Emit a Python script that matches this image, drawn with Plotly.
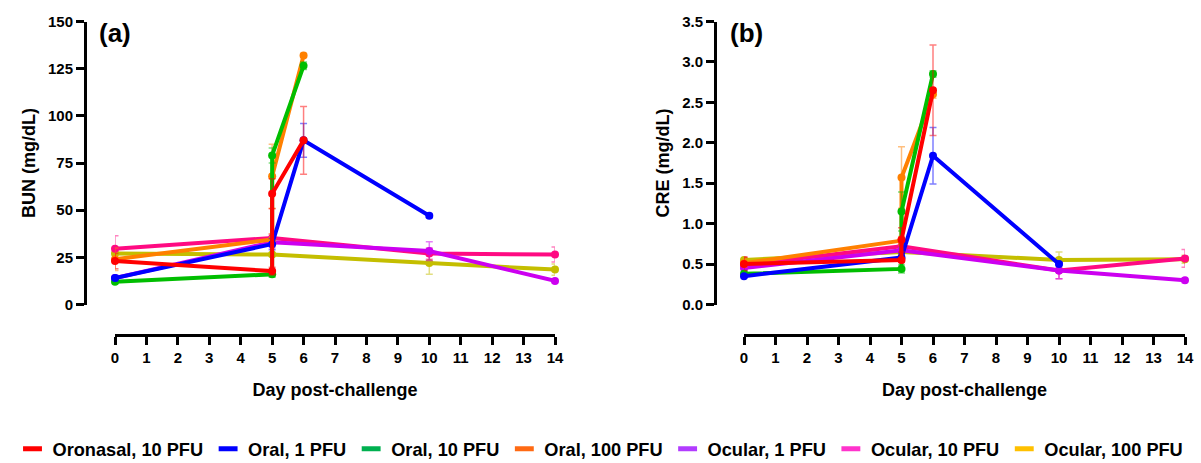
import plotly.graph_objects as go

# ---- data -------------------------------------------------------------
group_names = ["Oronasal, 10 PFU", "Oral, 1 PFU", "Oral, 10 PFU", "Oral, 100 PFU",
               "Ocular, 1 PFU", "Ocular, 10 PFU", "Ocular, 100 PFU"]

days_oronasal = [0, 5, 5, 6]
days_oral_1 = [0, 5, 6, 10]
days_oral_10 = [0, 5, 5, 6]
days_oral_100 = [0, 5, 5, 6]
days_ocular = [0, 5, 10, 14]

# BUN (mg/dL), mean and SD
bun_oronasal_10 = [23.0, 17.7, 58.7, 87.0]
bun_oronasal_10_sd = [4.0, 2.0, 8.0, 18.0]
bun_oral_1 = [14.0, 32.0, 87.0, 47.0]
bun_oral_1_sd = [1.5, 3.0, 9.0, 1.0]
bun_oral_10 = [12.0, 16.0, 79.0, 126.5]
bun_oral_10_sd = [1.0, 1.5, 4.0, 2.0]
bun_oral_100 = [24.0, 34.5, 68.0, 132.0]
bun_oral_100_sd = [6.0, 3.0, 17.0, 1.0]
bun_ocular_1 = [14.0, 33.0, 28.3, 12.5]
bun_ocular_1_sd = [1.0, 3.0, 5.0, 1.0]
bun_ocular_10 = [29.5, 35.3, 27.0, 26.5]
bun_ocular_10_sd = [7.0, 2.0, 3.0, 4.0]
bun_ocular_100 = [27.0, 26.5, 22.0, 18.5]
bun_ocular_100_sd = [2.0, 1.0, 6.0, 3.0]

# CRE (mg/dL), mean and SD
cre_oronasal_10 = [0.50, 0.55, 0.80, 2.65]
cre_oronasal_10_sd = [0.08, 0.03, 0.15, 0.56]
cre_oral_1 = [0.35, 0.58, 1.84, 0.50]
cre_oral_1_sd = [0.02, 0.05, 0.35, 0.02]
cre_oral_10 = [0.38, 0.44, 1.15, 2.85]
cre_oral_10_sd = [0.03, 0.05, 0.24, 0.04]
cre_oral_100 = [0.51, 0.79, 1.57, 2.60]
cre_oral_100_sd = [0.05, 0.05, 0.38, 0.05]
cre_ocular_1 = [0.45, 0.67, 0.42, 0.30]
cre_ocular_1_sd = [0.03, 0.03, 0.10, 0.03]
cre_ocular_10 = [0.49, 0.72, 0.42, 0.57]
cre_ocular_10_sd = [0.10, 0.03, 0.10, 0.11]
cre_ocular_100 = [0.55, 0.65, 0.55, 0.56]
cre_ocular_100_sd = [0.03, 0.03, 0.10, 0.05]

day_ticks = list(range(0, 15))
bun_ticks = [0, 25, 50, 75, 100, 125, 150]
cre_ticks = [0.0, 0.5, 1.0, 1.5, 2.0, 2.5, 3.0, 3.5]
cre_tick_text = ["0.0", "0.5", "1.0", "1.5", "2.0", "2.5", "3.0", "3.5"]

# ---- styling ----------------------------------------------------------
line_colors = ["#FF0000", "#0000FF", "#00BE00", "#FF8000",
               "#CC00F0", "#FF0A82", "#C4BE00"]
err_colors = ["rgba(255,0,0,0.5)", "rgba(0,0,255,0.5)", "rgba(0,190,0,0.5)",
              "rgba(255,128,0,0.5)", "rgba(204,0,240,0.5)", "rgba(255,10,130,0.5)",
              "rgba(196,190,0,0.5)"]
legend_colors = ["#FF0000", "#0000FF", "#00B050", "#FF6A13",
                 "#B23CFF", "#FF33CC", "#FFC000"]

FONT = "Liberation Sans, Arial, sans-serif"
W, H = 1201, 463


def px_x(p):
    return p / W


def px_y(p):
    return 1 - p / H


bun_series = [
    (days_oronasal, bun_oronasal_10, bun_oronasal_10_sd),
    (days_oral_1, bun_oral_1, bun_oral_1_sd),
    (days_oral_10, bun_oral_10, bun_oral_10_sd),
    (days_oral_100, bun_oral_100, bun_oral_100_sd),
    (days_ocular, bun_ocular_1, bun_ocular_1_sd),
    (days_ocular, bun_ocular_10, bun_ocular_10_sd),
    (days_ocular, bun_ocular_100, bun_ocular_100_sd),
]
cre_series = [
    (days_oronasal, cre_oronasal_10, cre_oronasal_10_sd),
    (days_oral_1, cre_oral_1, cre_oral_1_sd),
    (days_oral_10, cre_oral_10, cre_oral_10_sd),
    (days_oral_100, cre_oral_100, cre_oral_100_sd),
    (days_ocular, cre_ocular_1, cre_ocular_1_sd),
    (days_ocular, cre_ocular_10, cre_ocular_10_sd),
    (days_ocular, cre_ocular_100, cre_ocular_100_sd),
]

fig = go.Figure()

# draw later groups first so the oronasal/oral lines sit on top
order = list(range(len(group_names)))[::-1]
for series, xa, ya in [(bun_series, "x", "y"), (cre_series, "x2", "y2")]:
    for i in order:
        days, vals, sd = series[i]
        fig.add_trace(go.Scatter(
            x=days, y=vals, mode="lines+markers",
            line=dict(color=line_colors[i], width=4),
            marker=dict(color=line_colors[i], size=8),
            error_y=dict(type="data", array=sd, visible=True,
                         color=err_colors[i], thickness=1.5, width=3.5),
            cliponaxis=False, showlegend=False, legendgroup=group_names[i],
            name=group_names[i], xaxis=xa, yaxis=ya,
        ))

# legend keys: short thick dashes
for i, name in enumerate(group_names):
    fig.add_trace(go.Scatter(
        x=[None], y=[None], mode="markers", name=name,
        marker=dict(symbol="line-ew", size=13.5, color=legend_colors[i],
                    line=dict(color=legend_colors[i], width=5)),
        legendgroup=name, showlegend=True, xaxis="x", yaxis="y",
    ))

tick_font = dict(family=FONT, size=15, color="black", weight="bold")
title_font = dict(family=FONT, size=18, color="black", weight="bold")

x_common = dict(
    range=[0, 14], tickvals=day_ticks, ticks="outside", ticklen=8, tickwidth=3,
    tickcolor="black", showline=True, linewidth=3, linecolor="black",
    showgrid=False, zeroline=False, tickfont=tick_font, anchor="free",
    position=px_y(335), automargin=False,
    title=dict(text="Day post-challenge", font=title_font, standoff=18),
)
y_common = dict(
    ticks="outside", ticklen=8, tickwidth=3, tickcolor="black", showline=True,
    linewidth=3, linecolor="black", showgrid=False, zeroline=False,
    tickfont=tick_font, anchor="free", automargin=False,
    domain=[px_y(304.5), px_y(21.5)],
)

fig.update_layout(
    width=W, height=H,
    margin=dict(l=0, r=0, t=0, b=0, autoexpand=False),
    paper_bgcolor="white", plot_bgcolor="white",
    font=dict(family=FONT, color="black"),
    xaxis=dict(domain=[px_x(115), px_x(555)], **x_common),
    xaxis2=dict(domain=[px_x(744), px_x(1185)], **x_common),
    yaxis=dict(range=[0, 150], tickvals=bun_ticks, position=px_x(85),
               title=dict(text="BUN (mg/dL)", font=title_font, standoff=6),
               **y_common),
    yaxis2=dict(range=[0, 3.5], tickvals=cre_ticks, ticktext=cre_tick_text,
                position=px_x(715),
                title=dict(text="CRE (mg/dL)", font=title_font, standoff=6),
                **y_common),
    legend=dict(orientation="h", x=0.5, xanchor="center", y=px_y(449),
                yanchor="middle", font=dict(family=FONT, size=18.2, color="black",
                                            weight="bold"),
                itemwidth=30, bgcolor="rgba(0,0,0,0)"),
    annotations=[
        dict(text="(a)", x=px_x(97), y=px_y(33), xref="paper", yref="paper",
             xanchor="left", yanchor="middle", showarrow=False,
             font=dict(family=FONT, size=26, color="black", weight="bold")),
        dict(text="(b)", x=px_x(728), y=px_y(33), xref="paper", yref="paper",
             xanchor="left", yanchor="middle", showarrow=False,
             font=dict(family=FONT, size=26, color="black", weight="bold")),
    ],
)

fig.write_html("out.html")
